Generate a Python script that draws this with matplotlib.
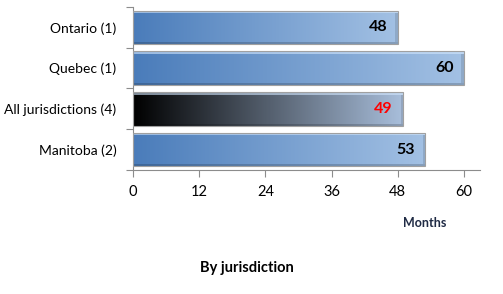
import numpy as np
import matplotlib.pyplot as plt
from matplotlib.colors import to_rgb

categories = ["Ontario (1)", "Quebec (1)", "All jurisdictions (4)", "Manitoba (2)"]
values = [48, 60, 49, 53]
highlight = "All jurisdictions (4)"
xticks = [0, 12, 24, 36, 48, 60]

plt.rcParams['font.family'] = ['Lato', 'DejaVu Sans']

fig = plt.figure(figsize=(5.03, 2.94), dpi=100)
ax = fig.add_axes([0.2644, 0.422, 0.954 - 0.2644, 0.976 - 0.422])

ypos = np.arange(len(categories))
bh = 0.82
bars = ax.barh(ypos, values, height=bh, color='none', edgecolor='#a0a0a0', lw=0.8, zorder=3)

def bar_image(left, right, ncols, nrows=33):
    l = np.array(to_rgb(left)); r = np.array(to_rgb(right))
    t = np.linspace(0, 1, ncols)[None, :, None]
    img = l + (r - l) * t
    img = np.repeat(img, nrows, axis=0)
    hl = np.array([0.82, 0.90, 0.99])
    for i in range(3):
        img[i] = img[i] * 0.4 + hl * 0.6
    for i in range(1, 3):
        img[-i] = img[-i] * 0.82
    img[3:-2, -3:] = img[3:-2, -3:] * 0.88
    return np.clip(img, 0, 1)

for cat, v, y, b in zip(categories, values, ypos, bars):
    ncols = int(v * 5.52)
    if cat == highlight:
        img = bar_image('#000000', '#a9bfdc', ncols)
        col = '#ff0000'
    else:
        img = bar_image('#4a7cba', '#a3c1e4', ncols)
        col = '#000000'
    im = ax.imshow(img, extent=[0, v, y + bh / 2, y - bh / 2], aspect='auto',
                   interpolation='nearest', zorder=2)
    im.set_clip_path(b)
    ax.text(v - 1.9, y, str(v), ha='right', va='center', fontsize=11.5,
            fontweight='bold', color=col, zorder=4)

ax.set_xlim(0, 62.9)
ax.set_ylim(len(categories) - 0.5, -0.5)
ax.set_xticks(xticks)
ax.set_xticklabels([str(t) for t in xticks], fontsize=10.5)
ax.set_yticks(ypos)
ax.set_yticklabels(categories, fontsize=10)
ax.set_yticks(np.arange(len(categories) + 1) - 0.5, minor=True)
ax.tick_params(axis='y', which='major', length=0, pad=12)
ax.tick_params(axis='y', which='minor', length=5, color='#8c8c8c', width=0.8)
ax.tick_params(axis='x', length=5, color='#8c8c8c', width=0.8, pad=6)
for s in ['top', 'right']:
    ax.spines[s].set_visible(False)
for s in ['left', 'bottom']:
    ax.spines[s].set_color('#8c8c8c')
    ax.spines[s].set_linewidth(0.8)

fig.text(425 / 503, 1 - 223 / 294, "Months", ha='center', va='center',
         fontsize=9, fontweight='bold', color='#1f2a44')
fig.text(247 / 503, 1 - 268 / 294, "By jurisdiction", ha='center', va='center',
         fontsize=10.5, fontweight='bold', color='#000000')

fig.savefig('out.png', dpi=100)
